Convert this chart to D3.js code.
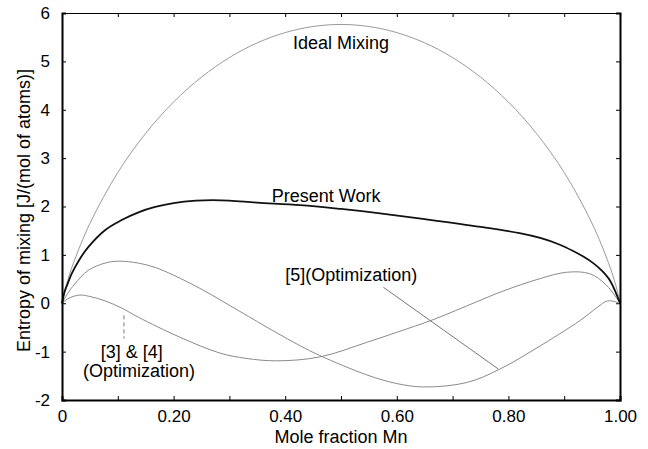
<!DOCTYPE html>
<html>
<head>
<meta charset="utf-8">
<script src="https://cdn.jsdelivr.net/npm/d3@7"></script>
<style>
  html, body { margin: 0; padding: 0; background: #fff; }
  svg { display: block; font-family: "Liberation Sans", Arial, Helvetica, sans-serif; }
</style>
</head>
<body>
<svg id="chart" width="648" height="449"></svg>
<script>
// Mole fraction Mn (x) and entropy of mixing, J/(mol of atoms)
const idealX = [0, 0.005, 0.01, 0.02, 0.05, 0.1, 0.15, 0.2, 0.25, 0.3, 0.35, 0.4, 0.45, 0.5,
                0.55, 0.6, 0.65, 0.7, 0.75, 0.8, 0.85, 0.9, 0.95, 0.98, 0.99, 0.995, 1];
const idealY = [0, 0.262, 0.466, 0.815, 1.650, 2.703, 3.514, 4.160, 4.675, 5.079, 5.383, 5.595, 5.721, 5.763,
                5.721, 5.595, 5.383, 5.079, 4.675, 4.160, 3.514, 2.703, 1.650, 0.815, 0.466, 0.262, 0];

const presentX = [0, 0.005, 0.01, 0.0174, 0.03, 0.047, 0.077, 0.107, 0.137, 0.167, 0.2, 0.24, 0.27, 0.3,
                  0.35, 0.427, 0.5, 0.57, 0.65, 0.75, 0.82, 0.857, 0.89, 0.916, 0.935, 0.952, 0.966, 0.982, 1];
const presentY = [0, 0.25, 0.40, 0.61, 0.88, 1.16, 1.51, 1.72, 1.88, 1.99, 2.07, 2.12, 2.13, 2.12,
                  2.08, 2.03, 1.95, 1.86, 1.74, 1.58, 1.45, 1.35, 1.22, 1.08, 0.96, 0.83, 0.69, 0.47, 0];

// [5] optimization
const opt5X = [0, 0.01, 0.023, 0.047, 0.077, 0.101, 0.137, 0.167, 0.2, 0.25, 0.319, 0.38, 0.427, 0.462,
               0.546, 0.6, 0.648, 0.725, 0.785, 0.85, 0.928, 0.96, 0.978, 1];
const opt5Y = [0, 0.2, 0.40, 0.68, 0.83, 0.87, 0.83, 0.74, 0.58, 0.29, -0.17, -0.58, -0.88, -1.08,
               -1.48, -1.66, -1.73, -1.64, -1.36, -0.93, -0.36, -0.08, 0.05, 0];

// [3] & [4] optimization
const opt34X = [0, 0.01, 0.02, 0.032, 0.05, 0.077, 0.107, 0.137, 0.211, 0.283, 0.33, 0.385, 0.462, 0.546,
                0.6, 0.665, 0.743, 0.79, 0.857, 0.904, 0.946, 0.976, 1];
const opt34Y = [0, 0.09, 0.14, 0.17, 0.14, 0.05, -0.10, -0.29, -0.70, -1.03, -1.14, -1.19, -1.11, -0.81,
                -0.60, -0.34, 0.03, 0.25, 0.51, 0.64, 0.61, 0.37, 0];

const xTicks = [0, 0.1, 0.2, 0.3, 0.4, 0.5, 0.6, 0.7, 0.8, 0.9, 1.0];
const xTickLabels = ["0", "", "0.20", "", "0.40", "", "0.60", "", "0.80", "", "1.00"];
const yTicks = [-2, -1, 0, 1, 2, 3, 4, 5, 6];
const yTickLabels = ["-2", "-1", "0", "1", "2", "3", "4", "5", "6"];

const svg = d3.select("#chart");
const margin = { left: 62, right: 28, top: 13, bottom: 49 };
const W = 648, H = 449;
const x = d3.scaleLinear().domain([0, 1]).range([margin.left, W - margin.right]);
const y = d3.scaleLinear().domain([-2, 6]).range([H - margin.bottom, margin.top]);

const zip = (xs, ys) => xs.map((v, i) => [v, ys[i]]);
const line = d3.line().x(d => x(d[0])).y(d => y(d[1])).curve(d3.curveCatmullRom.alpha(0.5));

// curves
svg.append("path").attr("d", line(zip(idealX, idealY)))
  .attr("fill", "none").attr("stroke", "#9a9a9a").attr("stroke-width", 1);
svg.append("path").attr("d", line(zip(opt5X, opt5Y)))
  .attr("fill", "none").attr("stroke", "#8a8a8a").attr("stroke-width", 1);
svg.append("path").attr("d", line(zip(opt34X, opt34Y)))
  .attr("fill", "none").attr("stroke", "#8a8a8a").attr("stroke-width", 1);
svg.append("path").attr("d", line(zip(presentX, presentY)))
  .attr("fill", "none").attr("stroke", "#111").attr("stroke-width", 1.8);

// axes: ticks inward on all four sides
const tickLen = 4;
const axB = d3.axisBottom(x).tickValues(xTicks).tickSize(-tickLen).tickPadding(10)
  .tickFormat((d, i) => xTickLabels[i]);
const axT = d3.axisTop(x).tickValues(xTicks).tickSize(-tickLen).tickFormat("");
const axL = d3.axisLeft(y).tickValues(yTicks).tickSize(-tickLen).tickPadding(12)
  .tickFormat((d, i) => yTickLabels[i]);
const axR = d3.axisRight(y).tickValues(yTicks).tickSize(-tickLen).tickFormat("");

function styleAxis(g, w) {
  g.select(".domain").attr("stroke", "#000").attr("stroke-width", w);
  g.selectAll(".tick line").attr("stroke", "#000").attr("stroke-width", 1);
  g.selectAll(".tick text").attr("fill", "#000").attr("font-size", 17)
    .attr("font-family", "Liberation Sans, Arial, sans-serif");
}
svg.append("g").attr("transform", `translate(0,${y(-2)})`).call(axB).call(g => styleAxis(g, 2));
svg.append("g").attr("transform", `translate(0,${y(6)})`).call(axT).call(g => styleAxis(g, 1.2));
svg.append("g").attr("transform", `translate(${x(0)},0)`).call(axL).call(g => styleAxis(g, 2));
svg.append("g").attr("transform", `translate(${x(1)},0)`).call(axR).call(g => styleAxis(g, 2));

// axis titles
svg.append("text").attr("x", x(0.5)).attr("y", 443).attr("text-anchor", "middle")
  .attr("font-size", 18).text("Mole fraction Mn");
svg.append("text").attr("transform", `translate(29.5,${(y(-2) + y(6)) / 2 + 4}) rotate(-90)`)
  .attr("text-anchor", "middle").attr("font-size", 18).text("Entropy of mixing [J/(mol of atoms)]");

// curve labels
const lbl = (tx, ty, s, anchor) => svg.append("text").attr("x", x(tx)).attr("y", y(ty))
  .attr("text-anchor", anchor).attr("font-size", 18).attr("fill", "#000").text(s);
lbl(0.5, 5.26, "Ideal Mixing", "middle");
lbl(0.376, 2.10, "Present Work", "start");
lbl(0.40, 0.47, "[5](Optimization)", "start");
lbl(0.125, -1.13, "[3] & [4]", "middle");
lbl(0.138, -1.52, "(Optimization)", "middle");

// leader lines
svg.append("line").attr("x1", x(0.576)).attr("y1", y(0.33)).attr("x2", x(0.782)).attr("y2", y(-1.36))
  .attr("stroke", "#777").attr("stroke-width", 1);
svg.append("line").attr("x1", x(0.111)).attr("y1", y(-0.25)).attr("x2", x(0.111)).attr("y2", y(-0.73))
  .attr("stroke", "#777").attr("stroke-width", 1).attr("stroke-dasharray", "4,3");
</script>
</body>
</html>
